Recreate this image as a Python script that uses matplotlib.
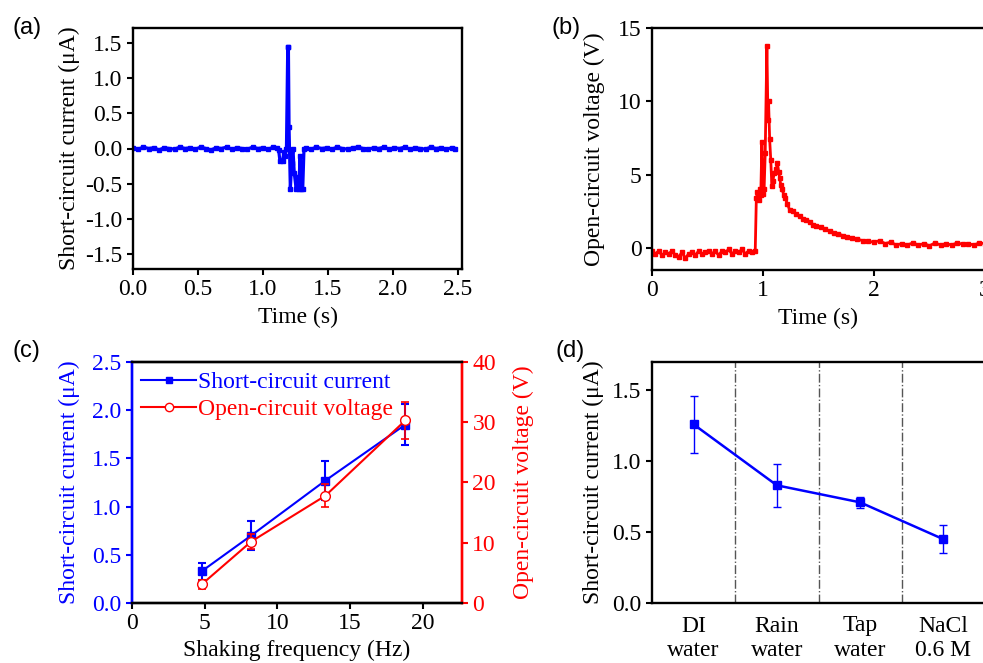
import matplotlib.pyplot as plt
from matplotlib.lines import Line2D
import numpy as np

plt.rcParams['font.family'] = ['Liberation Serif', 'DejaVu Serif']
plt.rcParams['axes.unicode_minus'] = False
FS = 17

# ---- (a) short-circuit current vs time
ta = [0.00, 0.04, 0.08, 0.12, 0.16, 0.20, 0.24, 0.28, 0.32, 0.36, 0.40, 0.44,
      0.48, 0.52, 0.56, 0.60, 0.64, 0.68, 0.72, 0.76, 0.80, 0.84, 0.88, 0.92,
      0.96, 1.00, 1.04, 1.08, 1.11, 1.12, 1.13, 1.15, 1.16, 1.17, 1.18, 1.19,
      1.195, 1.20, 1.21, 1.22, 1.23, 1.24, 1.255, 1.265, 1.275, 1.285, 1.295,
      1.305, 1.315, 1.33, 1.37, 1.41, 1.45, 1.49, 1.53, 1.57, 1.61, 1.65, 1.69,
      1.73, 1.77, 1.81, 1.85, 1.89, 1.93, 1.97, 2.01, 2.05, 2.09, 2.13, 2.17,
      2.21, 2.25, 2.29, 2.33, 2.37, 2.41, 2.45, 2.48]
ia = [0.01, -0.01, 0.02, 0.00, 0.01, -0.02, 0.01, 0.00, -0.01, 0.02, 0.00,
      0.01, -0.01, 0.02, 0.00, -0.02, 0.01, 0.00, 0.02, -0.01, 0.01, 0.00,
      -0.01, 0.02, 0.00, 0.01, -0.01, 0.02, 0.01, -0.02, -0.18, -0.18, -0.05,
      -0.10, 0.00, 1.45, 1.45, 0.30, -0.58, -0.20, 0.00, -0.35, -0.58, -0.40,
      -0.58, -0.10, -0.58, -0.58, 0.00, 0.01, -0.01, 0.02, 0.00, 0.01, -0.01,
      0.02, 0.00, -0.01, 0.01, 0.02, 0.00, -0.01, 0.01, 0.00, 0.02, -0.01,
      0.01, 0.00, 0.02, -0.01, 0.01, 0.00, -0.01, 0.02, 0.00, 0.01, -0.01,
      0.01, 0.00]

# ---- (b) open-circuit voltage vs time
tb = [0.00, 0.03, 0.06, 0.09, 0.12, 0.15, 0.18, 0.21, 0.24, 0.27, 0.30, 0.33,
      0.36, 0.39, 0.42, 0.45, 0.48, 0.51, 0.54, 0.57, 0.60, 0.63, 0.66, 0.69,
      0.72, 0.75, 0.78, 0.81, 0.84, 0.87, 0.90, 0.93, 0.94, 0.95, 0.96, 0.97,
      0.98, 0.99, 1.00, 1.01, 1.02, 1.035, 1.045, 1.05, 1.06, 1.07, 1.08, 1.09,
      1.10, 1.12, 1.13, 1.14, 1.15, 1.16, 1.17, 1.19, 1.20, 1.22, 1.24, 1.27,
      1.30, 1.33, 1.36, 1.39, 1.42, 1.45, 1.48, 1.52, 1.56, 1.60, 1.64, 1.68,
      1.72, 1.76, 1.80, 1.85, 1.90, 1.95, 2.00, 2.05, 2.10, 2.15, 2.20, 2.25,
      2.30, 2.35, 2.40, 2.45, 2.50, 2.55, 2.60, 2.65, 2.70, 2.75, 2.80, 2.85,
      2.90, 2.95, 3.00]
vb = [-0.2, -0.4, -0.2, -0.5, -0.3, -0.4, -0.2, -0.5, -0.6, -0.3, -0.7, -0.4,
      -0.3, -0.5, -0.2, -0.4, -0.3, -0.2, -0.4, -0.2, -0.5, -0.2, -0.3, -0.1,
      -0.4, -0.2, -0.3, -0.1, -0.4, -0.2, -0.3, -0.2, 3.4, 3.8, 3.3, 4.0,
      3.6, 7.2, 3.7, 4.0, 6.5, 13.8, 8.7, 10.0, 7.4, 6.0, 4.2, 4.6,
      5.1, 5.4, 5.8, 5.2, 4.8, 4.3, 4.0, 3.6, 3.4, 3.0, 2.6, 2.5,
      2.3, 2.2, 2.0, 1.9, 1.8, 1.6, 1.5, 1.4, 1.3, 1.15, 1.05, 0.95,
      0.85, 0.75, 0.7, 0.6, 0.5, 0.45, 0.4, 0.5, 0.3, 0.4, 0.2, 0.3,
      0.2, 0.35, 0.2, 0.3, 0.15, 0.35, 0.2, 0.3, 0.2, 0.35, 0.25, 0.3,
      0.2, 0.35, 0.3]

# ---- (c) shaking frequency
freq = [4.8, 8.2, 13.3, 18.8]
isc = [0.33, 0.70, 1.27, 1.85]
isc_err = [0.09, 0.15, 0.20, 0.21]
voc = [3.1, 10.2, 17.8, 30.3]
voc_err = [0.8, 1.2, 1.9, 3.0]

# ---- (d) water type
water = ['DI\nwater', 'Rain\nwater', 'Tap\nwater', 'NaCl\n0.6 M']
isc_w = [1.26, 0.83, 0.71, 0.45]
isc_w_err = [0.20, 0.15, 0.04, 0.10]

W, H = 983, 663
fig = plt.figure(figsize=(W / 100, H / 100), dpi=100)


def box(l, t, r, b):
    return fig.add_axes([l / W, 1 - b / H, (r - l) / W, (b - t) / H])


def style(ax):
    for s in ax.spines.values():
        s.set_linewidth(1.7)
    ax.tick_params(direction='out', length=4.5, width=1.5, labelsize=FS, pad=3)


def panel(x, y, s):
    fig.text(x / W, 1 - y / H, s, fontsize=17, family='Liberation Sans',
             ha='center', va='center')


# (a)
ax1 = box(133, 28, 462, 269)
ax1.plot(ta, ia, color='blue', lw=2.3, marker='s', ms=2.5)
ax1.set_xlim(0, 2.53)
ax1.set_ylim(-1.72, 1.72)
ax1.set_xticks([0, 0.5, 1.0, 1.5, 2.0, 2.5])
ax1.set_yticks([-1.5, -1.0, -0.5, 0, 0.5, 1.0, 1.5])
ax1.xaxis.set_major_formatter('{x:.1f}')
ax1.yaxis.set_major_formatter('{x:.1f}')
ax1.set_xlabel('Time (s)', fontsize=FS, labelpad=5)
ax1.set_ylabel('Short-circuit current (μA)', fontsize=FS, labelpad=4)
style(ax1)
panel(27, 28, '(a)')

# (b)
ax2 = box(652, 28, 985, 270)
ax2.plot(tb, vb, color='red', lw=2, marker='s', ms=3.2)
ax2.set_xlim(0, 3)
ax2.set_ylim(-1.5, 15)
ax2.set_xticks([0, 1, 2, 3])
ax2.set_yticks([0, 5, 10, 15])
ax2.set_xlabel('Time (s)', fontsize=FS, labelpad=5)
ax2.set_ylabel('Open-circuit voltage (V)', fontsize=FS, labelpad=9)
style(ax2)
panel(566, 28, '(b)')

# (c)
ax3 = box(132, 362, 462, 603)
ax3b = ax3.twinx()
ax3.errorbar(freq, isc, yerr=isc_err, color='blue', lw=1.5, marker='s',
             ms=6, capsize=3, elinewidth=1.5, capthick=1.5)
ax3b.errorbar(freq, voc, yerr=voc_err, color='red', lw=1.5, marker='o',
              ms=7, mfc='white', capsize=3, elinewidth=1.2, capthick=1.2)
ax3.set_xlim(0, 22.7)
ax3.set_ylim(0, 2.5)
ax3b.set_ylim(0, 40)
ax3.set_xticks([0, 5, 10, 15, 20])
ax3.set_yticks([0, 0.5, 1.0, 1.5, 2.0, 2.5])
ax3.yaxis.set_major_formatter('{x:.1f}')
ax3b.set_yticks([0, 10, 20, 30, 40])
ax3.set_xlabel('Shaking frequency (Hz)', fontsize=FS, labelpad=4)
ax3.set_ylabel('Short-circuit current (μA)', fontsize=FS, color='blue', labelpad=9)
ax3b.set_ylabel('Open-circuit voltage (V)', fontsize=FS, color='red', labelpad=12)
style(ax3)
style(ax3b)
ax3.spines['left'].set_color('blue')
ax3b.spines['left'].set_color('blue')
ax3b.spines['right'].set_color('red')
ax3.spines['right'].set_color('red')
ax3.tick_params(axis='y', colors='blue')
ax3b.tick_params(axis='y', colors='red')
h1 = Line2D([], [], color='blue', lw=1.5, marker='s', ms=5)
h2 = Line2D([], [], color='red', lw=1.5, marker='o', ms=6, mfc='white')
leg = ax3.legend([h1, h2], ['Short-circuit current', 'Open-circuit voltage'],
                 loc='upper left', frameon=False, fontsize=FS, handlelength=2.3,
                 handletextpad=0.1, borderaxespad=0.2, labelspacing=0.25,
                 borderpad=0.2)
for txt, c in zip(leg.get_texts(), ['blue', 'red']):
    txt.set_color(c)
panel(26, 351, '(c)')

# (d)
ax4 = box(652, 362, 985, 603)
xd = np.arange(len(water))
ax4.errorbar(xd, isc_w, yerr=isc_w_err, color='blue', lw=1.8, marker='s',
             ms=6, capsize=3, elinewidth=1, capthick=1)
for xv in [0.5, 1.5, 2.5]:
    ax4.axvline(xv, color='#555555', lw=1, ls='-.')
ax4.set_xlim(-0.5, 3.5)
ax4.set_ylim(0, 1.7)
ax4.set_xticks(xd)
ax4.set_xticklabels(water)
ax4.set_yticks([0, 0.5, 1.0, 1.5])
ax4.yaxis.set_major_formatter('{x:.1f}')
ax4.set_ylabel('Short-circuit current (μA)', fontsize=FS, labelpad=6)
style(ax4)
ax4.tick_params(axis='x', length=0, pad=9)
for lab in ax4.get_xticklabels():
    lab.set_linespacing(1.25)
panel(570, 351, '(d)')

fig.savefig('out.png', dpi=100)
